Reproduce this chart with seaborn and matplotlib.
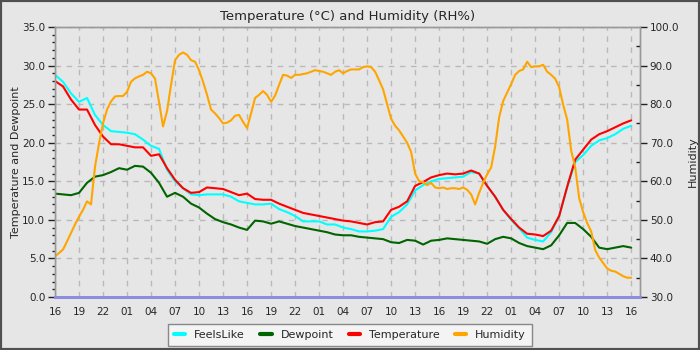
import matplotlib
matplotlib.use("Agg")
import matplotlib.pyplot as plt
import seaborn as sns
import pandas as pd
from matplotlib.ticker import MultipleLocator, FormatStrFormatter
from matplotlib.lines import Line2D
from matplotlib.patches import Rectangle


# hourly readings, 16:00 day 1 -> 16:00 day 4
hours = list(range(73))

temperature = [28.0, 27.3, 25.6, 24.3, 24.3, 22.3, 20.8, 19.8, 19.8, 19.6,
               19.4, 19.4, 18.3, 18.5, 16.7, 15.2, 14.1, 13.5, 13.6, 14.2,
               14.1, 14.0, 13.6, 13.2, 13.4, 12.7, 12.6, 12.6, 12.1, 11.7,
               11.3, 10.9, 10.7, 10.5, 10.3, 10.1, 9.9, 9.8, 9.6, 9.4,
               9.7, 9.8, 11.3, 11.7, 12.4, 14.4, 14.9, 15.5, 15.8, 16.0,
               15.9, 16.0, 16.4, 16.0, 14.4, 13.0, 11.3, 10.1, 9.0, 8.2,
               8.1, 7.9, 8.6, 10.5, 14.3, 17.8, 19.1, 20.4, 21.1, 21.5,
               22.0, 22.5, 22.9]

feels_like = [28.8, 27.9, 26.4, 25.3, 25.8, 23.6, 22.3, 21.5, 21.4, 21.3,
              21.1, 20.4, 19.6, 19.2, 16.5, 15.0, 14.1, 13.3, 13.2, 13.3,
              13.3, 13.3, 13.0, 12.4, 12.2, 12.0, 12.0, 12.1, 11.4, 11.0,
              10.5, 9.8, 9.8, 9.8, 9.4, 9.4, 9.0, 8.8, 8.5, 8.5,
              8.6, 8.8, 10.4, 11.0, 12.0, 13.8, 14.5, 15.0, 15.3, 15.4,
              15.5, 15.6, 16.2, 16.0, 14.4, 13.0, 11.3, 10.0, 8.9, 7.7,
              7.4, 7.2, 8.4, 10.5, 14.2, 17.5, 18.4, 19.6, 20.3, 20.6,
              21.1, 21.8, 22.2]

dewpoint = [13.4, 13.3, 13.2, 13.5, 14.8, 15.6, 15.8, 16.2, 16.7, 16.5,
            17.0, 16.9, 16.1, 14.8, 13.0, 13.5, 13.0, 12.1, 11.6, 10.8,
            10.1, 9.7, 9.4, 9.0, 8.7, 9.9, 9.8, 9.5, 9.8, 9.5,
            9.2, 9.0, 8.8, 8.6, 8.4, 8.1, 8.0, 8.0, 7.8, 7.7,
            7.6, 7.5, 7.1, 7.0, 7.4, 7.3, 6.8, 7.3, 7.4, 7.6,
            7.5, 7.4, 7.3, 7.2, 6.9, 7.5, 7.8, 7.6, 7.0, 6.6,
            6.4, 6.2, 6.7, 8.0, 9.6, 9.6, 8.8, 7.8, 6.4, 6.2,
            6.4, 6.6, 6.4]

# humidity read every half hour
humidity_hours = [i / 2 for i in range(145)]
humidity = [40.5, 41.4, 42.3, 44.4, 46.6, 48.8, 50.8, 52.6, 54.8, 54.0,
            63.8, 69.8, 75.0, 78.6, 80.7, 82.0, 82.1, 82.1, 83.2, 85.8,
            86.7, 87.2, 87.6, 88.4, 88.0, 86.6, 80.5, 74.2, 78.2, 85.0,
            91.4, 92.8, 93.4, 92.8, 91.4, 91.0, 88.8, 85.8, 82.4, 78.6,
            77.6, 76.4, 75.0, 75.2, 75.8, 77.0, 77.2, 75.4, 73.8, 77.6,
            81.6, 82.4, 83.4, 82.4, 80.6, 82.2, 85.0, 87.6, 87.4, 86.8,
            87.6, 87.6, 87.8, 88.0, 88.4, 88.8, 88.6, 88.4, 88.0, 87.6,
            88.4, 88.8, 88.0, 88.6, 89.0, 89.0, 89.0, 89.6, 89.8, 89.6,
            88.4, 86.2, 83.8, 80.0, 76.2, 74.4, 73.2, 71.6, 70.0, 67.6,
            62.0, 60.0, 59.8, 59.0, 59.6, 58.4, 58.2, 58.4, 58.0, 58.2,
            58.2, 58.0, 58.4, 57.8, 56.6, 54.0, 57.0, 59.6, 61.8, 63.6,
            69.0, 76.6, 80.8, 83.0, 85.2, 87.6, 88.6, 89.0, 91.0, 89.6,
            89.8, 89.8, 90.2, 88.4, 87.6, 86.6, 84.4, 79.8, 76.0, 68.0,
            63.6, 55.6, 52.0, 49.2, 47.0, 42.2, 40.2, 38.8, 37.4, 36.8,
            36.6, 36.0, 35.4, 35.0, 35.0]

tick_labels = ["16", "19", "22", "01", "04", "07", "10", "13",
               "16", "19", "22", "01", "04", "07", "10", "13",
               "16", "19", "22", "01", "04", "07", "10", "13", "16"]

colors = {"FeelsLike": "#00ffff", "Dewpoint": "#006400",
          "Temperature": "#ff0000", "Humidity": "#ffa500"}

bg = "#e6e6e6"
grid_color = "#b9b9b9"

df = pd.DataFrame({"hour": hours, "FeelsLike": feels_like,
                   "Dewpoint": dewpoint, "Temperature": temperature})
long_df = df.melt(id_vars="hour", var_name="series", value_name="value")
hum_df = pd.DataFrame({"hour": humidity_hours, "Humidity": humidity})

sns.set_style("white")
plt.rcParams["font.family"] = ["DejaVu Sans"]

fig = plt.figure(figsize=(7, 3.5), dpi=100, facecolor=bg)
ax = fig.add_axes([55 / 700, 53 / 350, 585 / 700, 270 / 350], facecolor=bg)

sns.lineplot(data=long_df, x="hour", y="value", hue="series",
             hue_order=["FeelsLike", "Dewpoint", "Temperature"],
             palette=colors, linewidth=1.5, legend=False, ax=ax)

ax2 = ax.twinx()
sns.lineplot(data=hum_df, x="hour", y="Humidity", color=colors["Humidity"],
             linewidth=1.5, ax=ax2)

ax.set_xlim(0, 73.1)
ax.set_ylim(0, 35)
ax2.set_ylim(30, 100)

ax.set_xticks(range(0, 73, 3))
ax.set_xticklabels(tick_labels)
ax.xaxis.set_minor_locator(MultipleLocator(1))
ax.yaxis.set_major_locator(MultipleLocator(5))
ax.yaxis.set_minor_locator(MultipleLocator(1))
ax.yaxis.set_major_formatter(FormatStrFormatter("%.1f"))
ax2.yaxis.set_major_locator(MultipleLocator(10))
ax2.yaxis.set_minor_locator(MultipleLocator(5))
ax2.yaxis.set_major_formatter(FormatStrFormatter("%.1f"))

ax.grid(True, which="major", linestyle=(0, (4, 4)), color=grid_color, linewidth=1)
ax.set_axisbelow(True)

ax.tick_params(axis="both", which="major", direction="out", length=5, width=1,
               color="#222222", labelsize=7.5, pad=2)
ax.tick_params(axis="both", which="minor", direction="out", length=2.5, width=1,
               color="#222222")
ax2.tick_params(axis="y", which="major", direction="out", length=5, width=1,
                color="#222222", labelsize=7.5, pad=2)
ax2.tick_params(axis="y", which="minor", direction="in", length=3, width=1,
                color="#222222")

for a in (ax, ax2):
    for side in ("left", "top", "right"):
        a.spines[side].set_color("#999999")
        a.spines[side].set_linewidth(1)
    a.spines["bottom"].set_color("#8c8ce0")
    a.spines["bottom"].set_linewidth(2)

ax.set_xlabel("")
ax.set_ylabel("Temperature and Dewpoint", fontsize=8, labelpad=1)
ax2.set_ylabel("Humidity", fontsize=8, labelpad=6)
ax.set_title("Temperature (°C) and Humidity (RH%)", fontsize=9.5, pad=5)

handles = [Line2D([], [], color=colors[k], linewidth=3) for k in colors]
leg = fig.legend(handles, list(colors.keys()), loc="lower center",
                 bbox_to_anchor=(0.5, -0.005), ncol=4, fontsize=8,
                 frameon=True, fancybox=False, edgecolor="#888888",
                 facecolor="#f4f4f4", framealpha=1, handlelength=1.0,
                 handletextpad=0.8, columnspacing=1.4, borderpad=0.55)

fig.patches.append(Rectangle((0, 0), 1, 1, transform=fig.transFigure,
                             fill=False, edgecolor="#505050", linewidth=3,
                             zorder=10))

fig.savefig("out.png", dpi=100, facecolor=bg)
